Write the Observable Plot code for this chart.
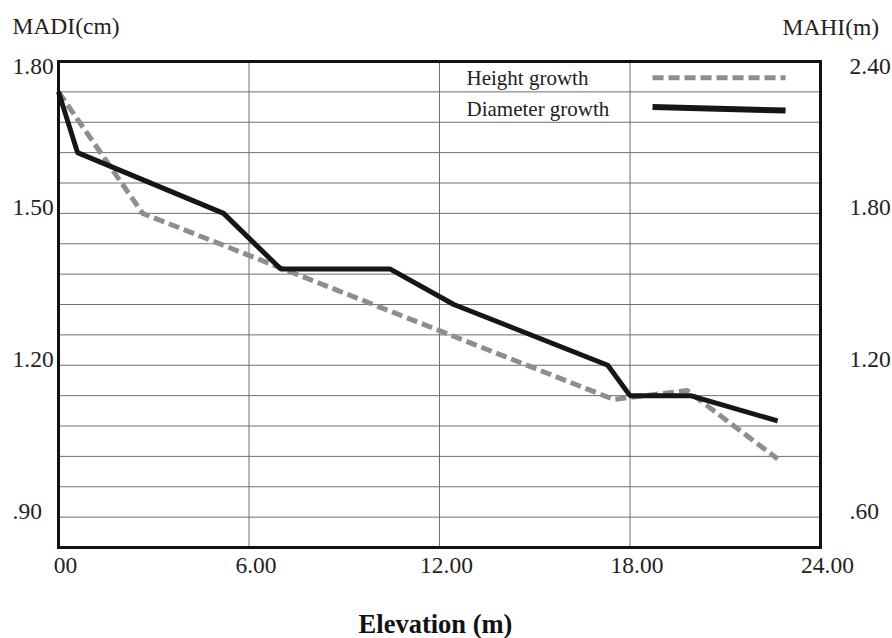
<!DOCTYPE html>
<html>
<head>
<meta charset="utf-8">
<script src="https://cdn.jsdelivr.net/npm/d3@7"></script>
<script src="https://cdn.jsdelivr.net/npm/@observablehq/plot@0.6"></script>
<style>
  html, body { margin: 0; padding: 0; background: #fff; }
  #chart svg { display: block; }
</style>
</head>
<body>
<div id="chart"></div>
<script>
// ---- Data ----
const elevDiameter = [0, 0.6, 5.2, 7.0, 10.45, 12.45, 17.3, 18.0, 19.9, 22.65];
const diameterGrowth = [1.74, 1.62, 1.50, 1.39, 1.39, 1.32, 1.20, 1.14, 1.14, 1.09]; // MADI (cm), left axis
const elevHeight = [0, 2.65, 17.48, 19.8, 22.65];
const heightGrowth = [2.28, 1.80, 1.065, 1.10, 0.83]; // MAHI (m), right axis

const xTicks = [0, 6, 12, 18, 24];
const xTickLabels = ["00", "6.00", "12.00", "18.00", "24.00"];
const leftTicks = [1.80, 1.50, 1.20, 0.90];
const leftTickLabels = ["1.80", "1.50", "1.20", ".90"];
const rightTicks = [2.40, 1.80, 1.20, 0.60];
const rightTickLabels = ["2.40", "1.80", "1.20", ".60"];
const seriesNames = ["Height growth", "Diameter growth"];

// right axis (MAHI) mapped onto left scale (MADI): left = (right + 1.2) / 2
const toLeft = (v) => (v + 1.2) / 2;

const diameterData = elevDiameter.map((x, i) => ({x, y: diameterGrowth[i]}));
const heightData = elevHeight.map((x, i) => ({x, y: heightGrowth[i]}));

const font = "Liberation Serif, Times New Roman, serif";
const gridYTicks = d3.range(17).map(i => +(0.84 + i * 0.06).toFixed(2));

const leftMap = new Map(leftTicks.map((t, i) => [t, leftTickLabels[i]]));
const rightMap = new Map(rightTicks.map((t, i) => [+toLeft(t).toFixed(2), rightTickLabels[i]]));
const xMap = new Map(xTicks.map((t, i) => [t, xTickLabels[i]]));

const gridStyle = {stroke: "#6f6f6f", strokeOpacity: 1, strokeWidth: 1};
const tickText = {fontSize: 23.5, fontFamily: font, fill: "#222"};

const chart = Plot.plot({
  width: 892,
  height: 638,
  marginLeft: 58,
  marginRight: 72,
  marginTop: 61,
  marginBottom: 91,
  style: {fontFamily: font, background: "#fff", color: "#222"},
  x: {domain: [0, 24], label: null},
  y: {domain: [0.84, 1.80], label: null},
  marks: [
    Plot.gridY(gridYTicks, gridStyle),
    Plot.gridX([6, 12, 18], gridStyle),
    // left axis
    Plot.axisY([1.50, 1.20, 0.90], {anchor: "left", tickSize: 0, tickPadding: 0, textAnchor: "start", dx: -46, lineAnchor: "bottom", dy: 2, tickFormat: d => leftMap.get(d), label: null, ...tickText}),
    Plot.axisY([1.80], {anchor: "left", tickSize: 0, tickPadding: 0, textAnchor: "start", dx: -46, lineAnchor: "bottom", dy: 12, tickFormat: d => leftMap.get(d), label: null, ...tickText}),
    // right axis
    Plot.axisY([1.50, 1.20, 0.90], {anchor: "right", tickSize: 0, tickPadding: 0, textAnchor: "start", dx: 29, lineAnchor: "bottom", dy: 2, tickFormat: d => rightMap.get(+d.toFixed(2)), label: null, ...tickText}),
    Plot.axisY([1.80], {anchor: "right", tickSize: 0, tickPadding: 0, textAnchor: "start", dx: 29, lineAnchor: "bottom", dy: 12, tickFormat: d => rightMap.get(+d.toFixed(2)), label: null, ...tickText}),
    // x axis
    Plot.axisX(xTicks, {anchor: "bottom", tickSize: 0, tickPadding: 0, lineAnchor: "bottom", dy: 25, dx: 7, tickFormat: d => xMap.get(d), label: null, ...tickText}),
    // series
    Plot.line(heightData, {x: "x", y: d => toLeft(d.y), stroke: "#8e8e8e", strokeWidth: 5, strokeDasharray: "11,5", strokeLinejoin: "miter", strokeLinecap: "butt"}),
    Plot.line(diameterData, {x: "x", y: "y", stroke: "#161616", strokeWidth: 5, strokeLinejoin: "miter", strokeLinecap: "butt"}),
    // legend (inside the chart, in the grid cells)
    Plot.text([seriesNames[0]], {frameAnchor: "top-left", dx: 408, dy: 23, lineAnchor: "bottom", textAnchor: "start", fontSize: 21, fontFamily: font, fill: "#222"}),
    Plot.text([seriesNames[1]], {frameAnchor: "top-left", dx: 408, dy: 54, lineAnchor: "bottom", textAnchor: "start", fontSize: 21, fontFamily: font, fill: "#222"}),
    Plot.link([0], {x1: 18.71, x2: 22.9, y1: 1.768, y2: 1.768, stroke: "#8e8e8e", strokeWidth: 5, strokeDasharray: "11,5"}),
    Plot.link([0], {x1: 18.71, x2: 22.9, y1: 1.71, y2: 1.703, stroke: "#161616", strokeWidth: 6}),
    // frame
    Plot.frame({stroke: "#111", strokeWidth: 3}),
    // axis titles
    Plot.text(["MADI(cm)"], {frameAnchor: "top-left", dx: -46, dy: -28, lineAnchor: "bottom", textAnchor: "start", fontSize: 23.5, fontFamily: font, fill: "#222"}),
    Plot.text(["MAHI(m)"], {frameAnchor: "top-right", dx: -38, dy: -27, lineAnchor: "bottom", textAnchor: "start", fontSize: 23.5, fontFamily: font, fill: "#222"}),
    Plot.text(["Elevation (m)"], {frameAnchor: "bottom", dx: -4, dy: 85, lineAnchor: "bottom", textAnchor: "middle", fontSize: 26.5, fontWeight: "bold", fontFamily: font, fill: "#111"})
  ]
});
document.getElementById("chart").appendChild(chart);
</script>
</body>
</html>
